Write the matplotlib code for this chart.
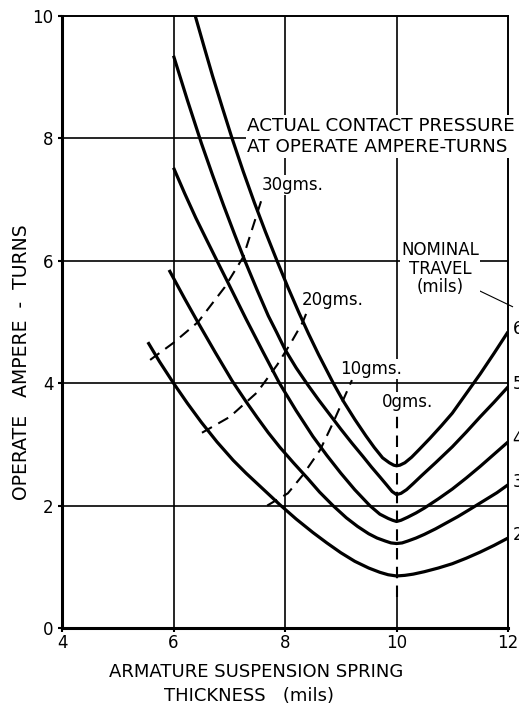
import matplotlib
matplotlib.use("Agg")
import matplotlib.pyplot as plt

# Operate ampere-turns vs. armature suspension spring thickness,
# one curve per nominal travel (mils).
travel = [6, 5, 4, 3, 2]

x_t6 = [6.39, 6.55, 6.7, 6.88, 7.05, 7.25, 7.45, 7.65, 7.86, 8.05, 8.25, 8.42, 8.6, 8.86,
        9.05, 9.25, 9.45, 9.6, 9.75, 9.87, 9.95, 10.0, 10.06, 10.15, 10.27, 10.4, 10.6,
        10.8, 11.0, 11.25, 11.5, 11.75, 12.0]
y_t6 = [10.0, 9.49, 9.02, 8.49, 8.0, 7.46, 6.95, 6.47, 5.99, 5.57, 5.15, 4.81, 4.47, 4.01,
        3.7, 3.41, 3.14, 2.95, 2.78, 2.7, 2.66, 2.65, 2.66, 2.7, 2.79, 2.91, 3.1,
        3.3, 3.51, 3.83, 4.15, 4.49, 4.84]

x_t5 = [6.0, 6.25, 6.5, 6.7, 6.9, 7.1, 7.28, 7.5, 7.7, 7.85, 8.0, 8.2, 8.41, 8.6, 8.8,
        9.0, 9.2, 9.4, 9.55, 9.7, 9.82, 9.92, 10.0, 10.08, 10.18, 10.3, 10.45, 10.7,
        11.0, 11.25, 11.5, 11.75, 12.0]
y_t5 = [9.35, 8.62, 7.92, 7.4, 6.9, 6.42, 6.0, 5.52, 5.1, 4.83, 4.55, 4.25, 3.97, 3.73, 3.49,
        3.25, 3.02, 2.8, 2.63, 2.47, 2.34, 2.23, 2.18, 2.2, 2.26, 2.36, 2.49, 2.7,
        2.96, 3.2, 3.45, 3.69, 3.94]

x_t4 = [6.0, 6.2, 6.4, 6.6, 6.78, 7.0, 7.3, 7.6, 7.9, 8.2, 8.5, 8.75, 9.0, 9.25, 9.52,
        9.7, 9.85, 9.93, 10.0, 10.08, 10.2, 10.35, 10.5, 10.75, 11.0, 11.25, 11.5, 11.75, 12.0]
y_t4 = [7.52, 7.1, 6.7, 6.33, 6.0, 5.6, 5.05, 4.52, 4.0, 3.55, 3.13, 2.82, 2.53, 2.26, 2.0,
        1.86, 1.79, 1.76, 1.74, 1.76, 1.81, 1.88, 1.96, 2.11, 2.27, 2.45, 2.64, 2.84, 3.04]

x_t3 = [5.92, 6.2, 6.44, 6.75, 7.05, 7.3, 7.5, 7.7, 7.91, 8.15, 8.4, 8.62, 8.86, 9.1, 9.3,
        9.5, 9.65, 9.8, 9.9, 10.0, 10.1, 10.2, 10.35, 10.5, 10.7, 10.9, 11.1, 11.3, 11.55,
        11.8, 12.0]
y_t3 = [5.85, 5.38, 4.99, 4.5, 4.04, 3.7, 3.44, 3.19, 2.95, 2.7, 2.45, 2.22, 2.0, 1.8, 1.66,
        1.54, 1.47, 1.42, 1.39, 1.38, 1.39, 1.42, 1.47, 1.53, 1.62, 1.72, 1.82, 1.93, 2.07,
        2.21, 2.34]

x_t2 = [5.54, 5.75, 6.0, 6.25, 6.5, 6.78, 7.07, 7.3, 7.5, 7.7, 7.9, 8.2, 8.5, 8.75, 9.0,
        9.25, 9.5, 9.7, 9.85, 10.0, 10.15, 10.3, 10.5, 10.75, 11.0, 11.25, 11.5, 11.75, 12.0]
y_t2 = [4.67, 4.35, 4.0, 3.67, 3.36, 3.04, 2.74, 2.53, 2.36, 2.19, 2.02, 1.78, 1.56, 1.39, 1.23,
        1.09, 0.98, 0.91, 0.87, 0.85, 0.86, 0.88, 0.92, 0.98, 1.05, 1.14, 1.24, 1.35, 1.47]

# contact pressure at operate ampere-turns (dashed)
pressure_labels = ["30gms.", "20gms.", "10gms.", "0gms."]
p30_x = [5.58, 6.0, 6.44, 6.92, 7.25, 7.52, 7.59]
p30_y = [4.38, 4.66, 5.0, 5.57, 6.06, 6.83, 7.03]
p20_x = [6.51, 7.01, 7.5, 7.86, 8.1, 8.32, 8.45]
p20_y = [3.19, 3.45, 3.85, 4.3, 4.65, 5.0, 5.3]
p10_x = [7.68, 8.05, 8.32, 8.63, 8.86, 9.2]
p10_y = [2.0, 2.2, 2.5, 2.91, 3.35, 4.05]
p0_x = [10.0, 10.0]
p0_y = [0.5, 3.6]

x_ticks = [4, 6, 8, 10, 12]
y_ticks = [0, 2, 4, 6, 8, 10]

curves = [(x_t6, y_t6), (x_t5, y_t5), (x_t4, y_t4), (x_t3, y_t3), (x_t2, y_t2)]
dashed = [(p30_x, p30_y), (p20_x, p20_y), (p10_x, p10_y), (p0_x, p0_y)]

fig = plt.figure(figsize=(5.19, 7.06), dpi=100)
ax = fig.add_axes([0.1195, 0.1105, 0.8594, 0.8669])
ax.set_xlim(4, 12)
ax.set_ylim(0, 10)

# grid, drawn by hand so the x=10 line can turn dashed below the 0gms label
for gx in [6, 8]:
    ax.plot([gx, gx], [0, 10], color="black", lw=1.2, zorder=1)
ax.plot([10, 10], [3.6, 10], color="black", lw=1.2, zorder=1)
ax.plot([10, 10], [0, 0.5], color="black", lw=1.2, zorder=1)
for gy in [2, 4, 6, 8]:
    ax.plot([4, 12], [gy, gy], color="black", lw=1.2, zorder=1)

for cx, cy in curves:
    ax.plot(cx, cy, color="black", lw=2.3, solid_capstyle="butt",
            solid_joinstyle="round", zorder=3)

for dx, dy in dashed:
    ax.plot(dx, dy, color="black", lw=1.5, dashes=(5.5, 3.5), zorder=3)

txt = dict(color="black", fontsize=12, zorder=10,
           bbox=dict(fc="white", ec="none", pad=1.0))

# pressure labels
ax.text(7.59, 7.24, pressure_labels[0], ha="left", va="center", **txt)
ax.text(8.30, 5.36, pressure_labels[1], ha="left", va="center", **txt)
ax.text(8.99, 4.23, pressure_labels[2], ha="left", va="center", **txt)
ax.text(9.74, 3.69, pressure_labels[3], ha="left", va="center", **txt)

ax.text(7.32, 8.03, "ACTUAL CONTACT PRESSURE\nAT OPERATE AMPERE-TURNS",
        ha="left", va="center", linespacing=1.25, clip_on=False,
        **{**txt, "fontsize": 13.2})

ax.text(10.78, 5.87, "NOMINAL\nTRAVEL\n(mils)", ha="center", va="center",
        linespacing=1.05, **txt)
ax.plot([11.28, 12.08], [5.6, 5.25], color="black", lw=0.8, clip_on=False, zorder=4)

# travel numbers at the right-hand ends of the curves
for t, (cx, cy) in zip(travel, curves):
    ax.text(12.08, cy[-1] + 0.05, str(t), ha="left", va="center",
            fontsize=12, clip_on=False)

ax.set_xticks(x_ticks)
ax.set_yticks(y_ticks)
ax.set_xticklabels([str(v) for v in x_ticks])
ax.set_yticklabels([str(v) for v in y_ticks])
ax.tick_params(axis="x", direction="out", length=3, width=1.5, labelsize=12, pad=1)
ax.tick_params(axis="y", direction="out", length=3, width=1.5, labelsize=12, pad=3)

for side in ["left", "bottom"]:
    ax.spines[side].set_linewidth(2.2)
for side in ["top", "right"]:
    ax.spines[side].set_linewidth(1.4)

fig.text(0.0405, 0.4873, "OPERATE   AMPERE  -  TURNS", rotation=90,
         ha="center", va="center", fontsize=13.5)
fig.text(256 / 519, 1 - 672 / 706, "ARMATURE SUSPENSION SPRING",
         ha="center", va="center", fontsize=13)
fig.text(249 / 519, 1 - 696 / 706, "THICKNESS   (mils)",
         ha="center", va="center", fontsize=13)

fig.savefig("out.png", dpi=100)
